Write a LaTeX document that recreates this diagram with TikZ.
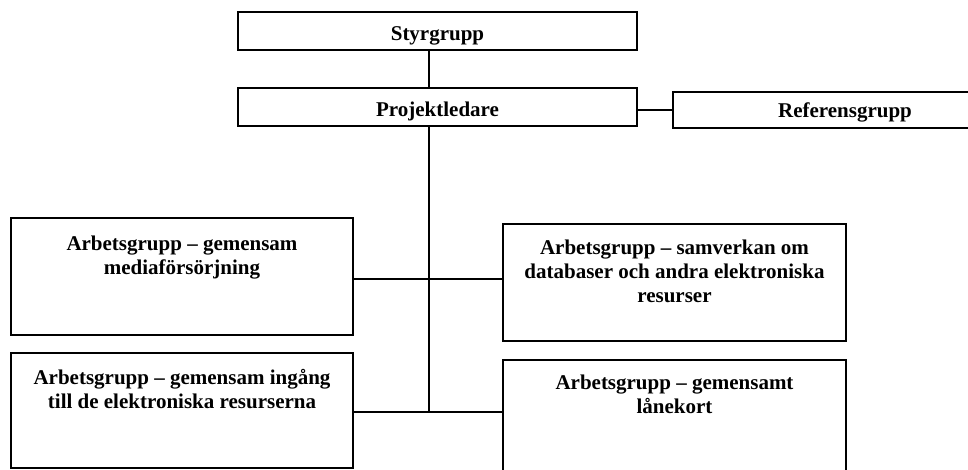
\documentclass[tikz,border=0pt]{standalone}
\usepackage{fontspec}
\setmainfont{Liberation Serif}
\usetikzlibrary{calc}
\begin{document}
\begin{tikzpicture}[x=1pt,y=-1pt,
  box/.style={draw, line width=1.3pt, inner sep=0pt},
  lbl/.style={font=\fontsize{21}{24}\selectfont\bfseries, align=center, inner sep=0pt},
  conn/.style={line width=1.3pt}]
\useasboundingbox (0,0) rectangle (968,470);
\clip (0,0) rectangle (968,470);
% top boxes
\node[box, minimum width=399pt, minimum height=38pt] (styr) at (437.5,31) {};
\node[box, minimum width=399pt, minimum height=38pt] (proj) at (437.5,107) {};
\node[box, minimum width=344pt, minimum height=36pt] (ref) at (845,110) {};
\node[lbl, anchor=base] (tstyr) at (437.5,41) {Styrgrupp};
\node[lbl, anchor=base] (tproj) at (437.5,117) {Projektledare};
\node[lbl, anchor=base] (tref) at (845,118) {Referensgrupp};
% work group boxes
\node[box, minimum width=342pt, minimum height=117pt] (L1) at (182,276.5) {};
\node[box, minimum width=343pt, minimum height=117pt] (R1) at (674.5,282.5) {};
\node[box, minimum width=342pt, minimum height=115pt] (L2) at (182,410.5) {};
\node[box, minimum width=343pt, minimum height=120pt] (R2) at (674.5,420) {};
% texts
\node[lbl, anchor=north] (tL1) at ($(L1.north)+(0,18)$) {Arbetsgrupp – gemensam\\mediaförsörjning};
\node[lbl, anchor=north] (tR1) at ($(R1.north)+(0,16)$) {Arbetsgrupp – samverkan om\\databaser och andra elektroniska\\resurser};
\node[lbl, anchor=north] (tL2) at ($(L2.north)+(0,17)$) {Arbetsgrupp – gemensam ingång\\till de elektroniska resurserna};
\node[lbl, anchor=north] (tR2) at ($(R2.north)+(0,15)$) {Arbetsgrupp – gemensamt\\lånekort};
% connectors
\coordinate (sp) at (429,0);
\coordinate (j1) at (429,279);
\coordinate (j2) at (429,412);
\draw[conn] (styr.south -| sp) -- (proj.north -| sp);
\draw[conn] (proj.east |- ref.west) -- (ref.west);
\draw[conn] (proj.south -| sp) -- (j2);
\draw[conn] (L1.east |- j1) -- (R1.west |- j1);
\draw[conn] (L2.east |- j2) -- (R2.west |- j2);
\end{tikzpicture}
\end{document}
